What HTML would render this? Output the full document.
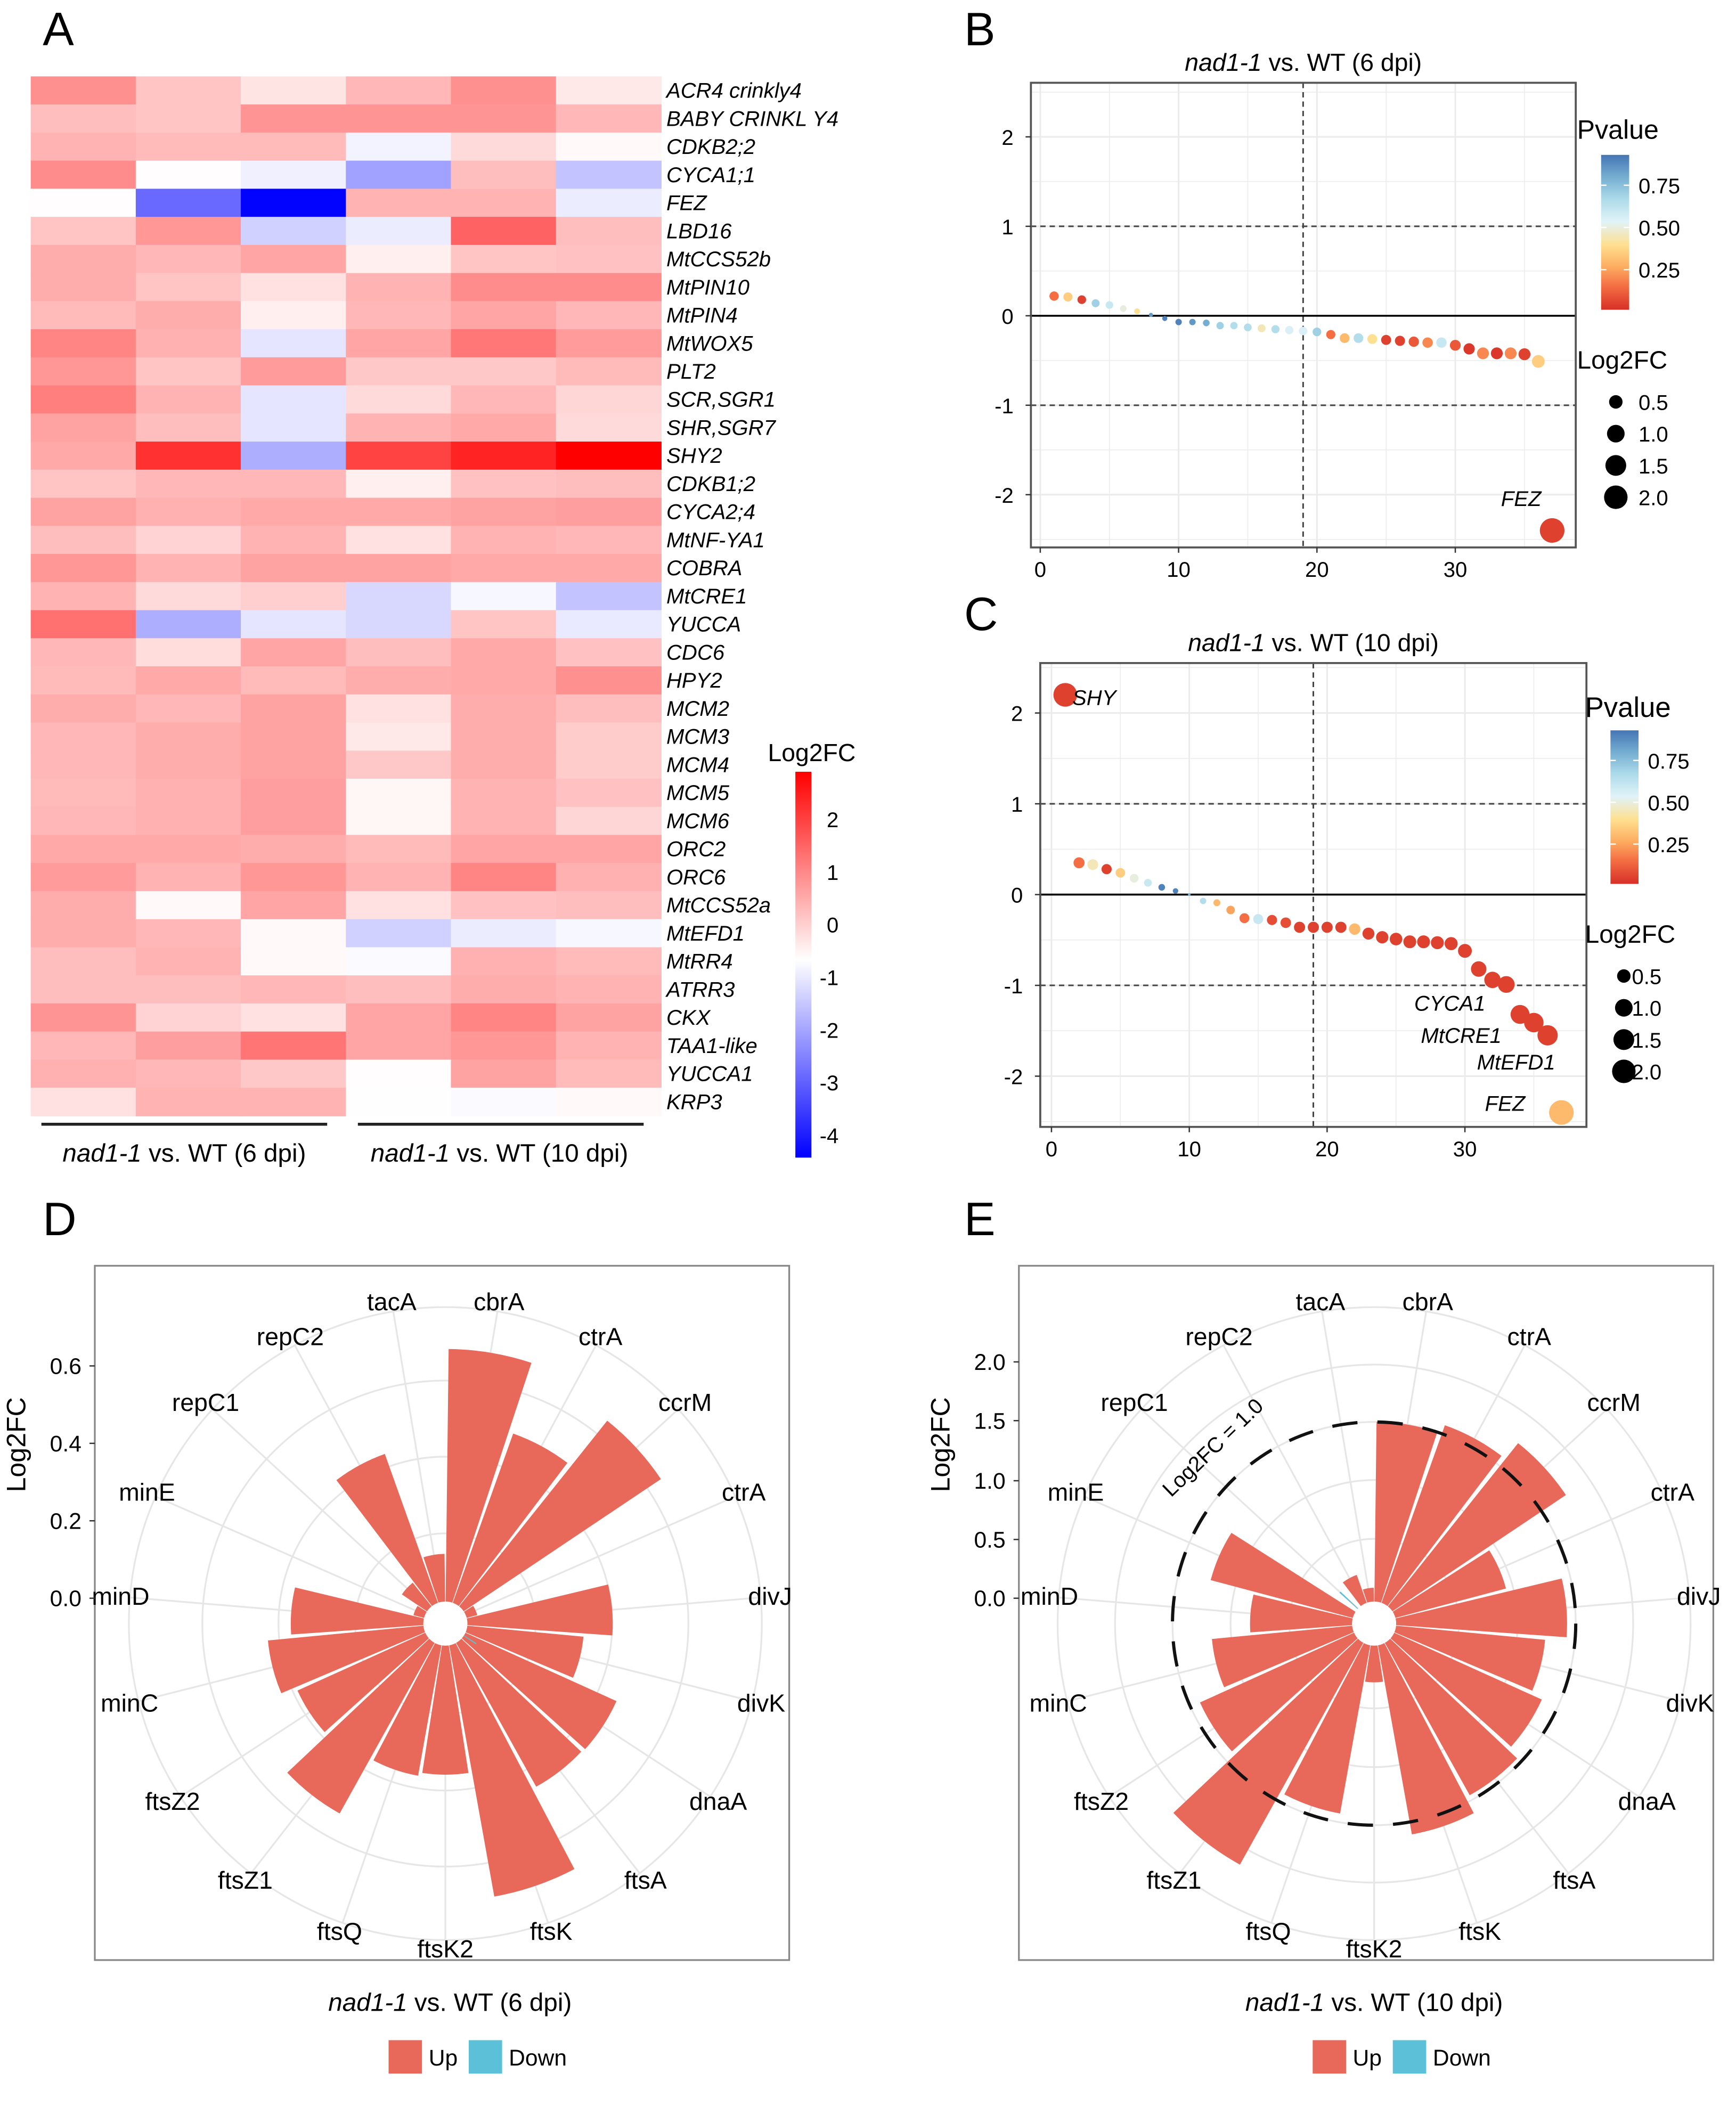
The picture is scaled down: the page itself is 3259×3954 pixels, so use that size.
<!DOCTYPE html>
<html><head><meta charset="utf-8"><title>Figure</title>
<style>
html,body{margin:0;padding:0;background:#fff;}
svg{display:block;font-family:"Liberation Sans",sans-serif;}
</style></head>
<body>
<svg id="fig" xmlns="http://www.w3.org/2000/svg" width="3259" height="3954" viewBox="0 0 1300 1577.3" preserveAspectRatio="none">
<defs>
<linearGradient id="hmGrad" x1="0" y1="0" x2="0" y2="1">
<stop offset="0" stop-color="#ff0000"/><stop offset="0.488" stop-color="#ffffff"/><stop offset="1" stop-color="#0000ff"/>
</linearGradient>
<linearGradient id="pGrad" x1="0" y1="1" x2="0" y2="0">
<stop offset="0" stop-color="#d73027"/><stop offset="0.15" stop-color="#f46d43"/><stop offset="0.28" stop-color="#fdae61"/><stop offset="0.42" stop-color="#fee090"/><stop offset="0.57" stop-color="#e0f3f8"/><stop offset="0.72" stop-color="#abd9e9"/><stop offset="0.86" stop-color="#74add1"/><stop offset="1" stop-color="#4575b4"/>
</linearGradient>
</defs>
<g id="root"></g>
</svg>
<script>
// ---------- Panel A data ----------
const hmGenes = ["ACR4 crinkly4","BABY CRINKL Y4","CDKB2;2","CYCA1;1","FEZ","LBD16","MtCCS52b","MtPIN10","MtPIN4","MtWOX5","PLT2","SCR,SGR1","SHR,SGR7","SHY2","CDKB1;2","CYCA2;4","MtNF-YA1","COBRA","MtCRE1","YUCCA","CDC6","HPY2","MCM2","MCM3","MCM4","MCM5","MCM6","ORC2","ORC6","MtCCS52a","MtEFD1","MtRR4","ATRR3","CKX","TAA1-like","YUCCA1","KRP3"];
const hmValues = [
[0.85,0.1,-0.35,0.3,0.85,-0.4],[0.2,0.1,0.8,0.8,0.8,0.3],[0.35,0.25,0.25,-0.9,-0.2,-0.65],
[0.9,-0.7,-0.95,-2.1,0.2,-1.6],[-0.7,-2.9,-4.4,0.35,0.35,-1.0],[0.1,0.75,-1.4,-1.0,1.5,0.2],
[0.45,0.3,0.55,-0.5,0.1,0.15],[0.45,0.1,-0.3,0.35,0.9,0.9],[0.25,0.45,-0.5,0.3,0.55,0.3],
[1.0,0.4,-1.1,0.55,1.2,0.7],[0.75,0.1,0.7,0.05,0.05,0.25],[1.1,0.35,-1.1,-0.2,0.3,-0.15],
[0.6,0.2,-1.1,0.35,0.5,-0.2],[0.5,2.2,-1.9,1.95,2.4,2.9],[0.1,0.3,0.3,-0.5,0.15,0.2],
[0.6,0.4,0.5,0.5,0.6,0.65],[0.2,-0.1,0.35,-0.3,0.35,0.3],[0.75,0.35,0.6,0.6,0.5,0.5],
[0.35,-0.2,-0.05,-1.3,-0.85,-1.6],[1.3,-1.9,-1.1,-1.3,0.1,-1.05],[0.3,-0.25,0.55,0.2,0.5,0.15],
[0.25,0.5,0.25,0.45,0.5,0.85],[0.45,0.3,0.6,-0.3,0.45,0.2],[0.3,0.45,0.6,-0.4,0.45,0.0],
[0.3,0.45,0.6,0.05,0.45,0.0],[0.25,0.4,0.65,-0.6,0.35,0.15],[0.3,0.4,0.65,-0.6,0.35,-0.15],
[0.5,0.5,0.45,0.25,0.55,0.55],[0.7,0.35,0.75,0.35,1.0,0.4],[0.45,-0.65,0.55,-0.3,0.15,0.2],
[0.45,0.3,-0.65,-1.4,-1.0,-0.85],[0.2,0.35,-0.65,-0.8,0.4,0.25],[0.2,0.2,0.3,0.2,0.45,0.35],
[0.8,-0.1,-0.3,0.55,1.0,0.6],[0.3,0.65,1.25,0.55,0.75,0.35],[0.4,0.3,0.05,-0.7,0.6,0.25],
[-0.3,0.35,0.35,-0.72,-0.8,-0.65]];
const hmTicks = [2,1,0,-1,-2,-3,-4];
// ---------- Panel B/C data ----------
const bLog2FC = [0.22,0.21,0.18,0.14,0.12,0.08,0.05,0.01,-0.03,-0.07,-0.07,-0.08,-0.11,-0.11,-0.13,-0.14,-0.15,-0.16,-0.17,-0.18,-0.21,-0.25,-0.25,-0.26,-0.27,-0.28,-0.29,-0.30,-0.30,-0.33,-0.37,-0.42,-0.42,-0.42,-0.43,-0.51,-2.4];
const bPvalue = [0.15,0.35,0.05,0.7,0.6,0.5,0.4,0.85,0.9,0.9,0.85,0.8,0.7,0.65,0.65,0.45,0.65,0.55,0.55,0.7,0.15,0.3,0.65,0.4,0.05,0.05,0.1,0.2,0.6,0.1,0.03,0.2,0.03,0.2,0.05,0.35,0.05];
const cLog2FC = [2.2,0.35,0.33,0.28,0.24,0.18,0.13,0.08,0.04,0.0,-0.07,-0.09,-0.17,-0.26,-0.27,-0.28,-0.31,-0.36,-0.36,-0.36,-0.36,-0.38,-0.43,-0.47,-0.49,-0.52,-0.52,-0.53,-0.54,-0.62,-0.82,-0.94,-0.99,-1.32,-1.41,-1.55,-2.4];
const cPvalue = [0.05,0.15,0.45,0.05,0.35,0.5,0.6,0.9,0.9,0.8,0.65,0.3,0.25,0.15,0.6,0.08,0.08,0.05,0.05,0.05,0.05,0.3,0.05,0.05,0.05,0.05,0.05,0.05,0.05,0.05,0.05,0.05,0.05,0.05,0.05,0.05,0.3];
const xTicks = [0,10,20,30];
const yTicks = [2,1,0,-1,-2];
const pTicks = [0.75,0.50,0.25];
const sizeTicks = [0.5,1.0,1.5,2.0];
// ---------- Panel D/E data ----------
const roseCats = ["cbrA","ctrA","ccrM","ctrA","divJ","divK","dnaA","ftsA","ftsK","ftsK2","ftsQ","ftsZ1","ftsZ2","minC","minD","minE","repC1","repC2","tacA"];
const dUp = [0.644,0.456,0.605,0.02,0.367,0.293,0.42,0.417,0.651,0.325,0.334,0.496,0.354,0.395,0.334,0.02,0.07,0.40,0.115];
const dDown = [0,0,0,0,0,0,0.03,0,0,0,0,0,0,0,0,0,0,0,0];
const eUp = [1.0,1.05,1.165,0.63,0.95,0.83,0.9,0.97,1.07,0.19,0.95,1.42,0.94,0.78,0.56,0.815,0,0.15,0.06];
const eDown = [0,0,0,0,0,0,0,0,0,0,0,0,0,0,0,0,0.12,0,0];
const dTicks = [0.0,0.2,0.4,0.6];
const eTicks = [0.0,0.5,1.0,1.5,2.0];

const NS="http://www.w3.org/2000/svg";
const root=document.getElementById('root');
function el(tag,attrs,parent,text){const e=document.createElementNS(NS,tag);for(const k in attrs)e.setAttribute(k,attrs[k]);if(text!==undefined)e.textContent=text;(parent||root).appendChild(e);return e;}
function txt(x,y,s,size,parent,extra){const a={x:x,y:y,'font-size':size,fill:'#000'};if(extra)for(const k in extra)a[k]=extra[k];return el('text',a,parent,s);}

// Panel letters
[["A",32,34],["B",722,34],["C",722,472],["D",32,925],["E",722,925]].forEach(p=>{
  const t=txt(p[1],p[2],p[0],35,root);
  
  
});

// ===== Panel A heatmap =====
const gA=el('g',{});


const hmL=23,hmR=495,hmT=57.2,hmB=835.7;
const cw=(hmR-hmL)/6, rh=(hmB-hmT)/hmGenes.length;
const hmMax=2.9,hmMid=-0.73,hmMin=-4.43;
function hmColor(v){let r,g,b;if(v>=hmMid){const t=Math.min(1,(v-hmMid)/(hmMax-hmMid));r=255;g=b=Math.round(255*(1-t));}else{const t=Math.min(1,(hmMid-v)/(hmMid-hmMin));b=255;r=g=Math.round(255*(1-t));}return `rgb(${r},${g},${b})`;}
hmValues.forEach((row,i)=>{
  row.forEach((v,j)=>{
    const c=el('rect',{x:hmL+j*cw,y:hmT+i*rh,width:cw+0.4,height:rh+0.4,fill:hmColor(v)},gA);
    
    
  });
  const t=txt(499,hmT+(i+0.5)*rh+5.5,hmGenes[i],16,gA,{'font-style':'italic'});
  
  
});
[[31,245,138],[268,482,374]].forEach((b,k)=>{
  const l=el('line',{x1:b[0],x2:b[1],y1:842,y2:842,stroke:'#222','stroke-width':2.2},gA);
  
  
  const t=el('text',{x:b[2],y:870,'font-size':19,'text-anchor':'middle'},gA);
  
  
  el('tspan',{'font-style':'italic'},t,'nad1-1');
  el('tspan',{},t,k==0?' vs. WT (6 dpi)':' vs. WT (10 dpi)');
});
// colorbar
const cbT=578,cbB=867;
const cb=el('rect',{x:595.6,y:cbT,width:12,height:cbB-cbT,fill:'url(#hmGrad)'},gA);


const cbt=txt(575,570,"Log2FC",18.5,gA);


function cbY(v){return cbT+(hmMax-v)/(hmMax-hmMin)*(cbB-cbT);}
hmTicks.forEach(v=>{
  const t=txt(628,cbY(v)+6,String(v),16,gA,{'text-anchor':'end'});
  
  
});

// ===== Pvalue color =====
const pStops=[[0,[215,48,39]],[0.15,[244,109,67]],[0.28,[253,174,97]],[0.42,[254,224,144]],[0.57,[224,243,248]],[0.72,[171,217,233]],[0.86,[116,173,209]],[1,[69,117,180]]];
function pColor(p){const f=Math.max(0,Math.min(1,(p-0.012)/(0.93-0.012)));for(let i=1;i<pStops.length;i++){if(f<=pStops[i][0]){const a=pStops[i-1],b=pStops[i];const t=(f-a[0])/(b[0]-a[0]);const c=a[1].map((x,k)=>Math.round(x+(b[1][k]-x)*t));return `rgb(${c})`;}}return 'rgb(69,117,180)';}
function sizeR(v){return 1+5.3*Math.sqrt(Math.abs(v));}

function dotPanel(cfg){
  const g=el('g',{});
  
  
  const X=v=>cfg.x0+v*cfg.xs, Y=v=>cfg.y0-v*cfg.ys;
  const bg=el('rect',{x:cfg.L,y:cfg.T,width:cfg.R-cfg.L,height:cfg.B-cfg.T,fill:'#fff'},g);
  
  
  for(let v=-2.5;v<=2.5;v+=0.5){const y=Y(v);if(y<cfg.T||y>cfg.B)continue;el('line',{x1:cfg.L,x2:cfg.R,y1:y,y2:y,stroke:'#ebebeb','stroke-width':Number.isInteger(v)?1.2:0.6},g);}
  for(let v=0;v<=35;v+=5){el('line',{x1:X(v),x2:X(v),y1:cfg.T,y2:cfg.B,stroke:'#ebebeb','stroke-width':v%10==0?1.2:0.6},g);}
  [1,-1].forEach(v=>{const l=el('line',{x1:cfg.L,x2:cfg.R,y1:Y(v),y2:Y(v),stroke:'#444','stroke-width':1.2,'stroke-dasharray':'4 3'},g);});
  const vl=el('line',{x1:X(19),x2:X(19),y1:cfg.T,y2:cfg.B,stroke:'#444','stroke-width':1.2,'stroke-dasharray':'4 3'},g);
  
  
  const zl=el('line',{x1:cfg.L,x2:cfg.R,y1:Y(0),y2:Y(0),stroke:'#000','stroke-width':1.4},g);
  
  
  const bx=el('rect',{x:cfg.L,y:cfg.T,width:cfg.R-cfg.L,height:cfg.B-cfg.T,fill:'none',stroke:'#555','stroke-width':1.5},g);
  
  
  cfg.fc.forEach((v,i)=>{
    const c=el('circle',{cx:X(i+1),cy:Y(v),r:sizeR(v),fill:pColor(cfg.p[i])},g);
    
    
  });
  cfg.labels.forEach(lb=>{
    const t=txt(lb[1],lb[2],lb[0],16,g,{'font-style':'italic'});
    
    
  });
  xTicks.forEach(v=>{
    el('line',{x1:X(v),x2:X(v),y1:cfg.B,y2:cfg.B+4,stroke:'#333','stroke-width':1},g);
    const t=txt(X(v),cfg.B+22,String(v),16,g,{'text-anchor':'middle'});
    
    
  });
  yTicks.forEach(v=>{
    el('line',{x1:cfg.L-4,x2:cfg.L,y1:Y(v),y2:Y(v),stroke:'#333','stroke-width':1},g);
    const t=txt(cfg.L-13,Y(v)+6,String(v),16,g,{'text-anchor':'end'});
    
    
  });
  const tt=el('text',{x:(cfg.L+cfg.R)/2,y:cfg.T-9,'font-size':18.5,'text-anchor':'middle'},g);
  
  
  el('tspan',{'font-style':'italic'},tt,'nad1-1');
  el('tspan',{},tt,cfg.title);
  // legends
  const lg=cfg.leg;
  const pt=txt(lg.px,lg.py,"Pvalue",lg.ps,g);
  
  
  const bar=el('rect',{x:lg.bx,y:lg.bt,width:21,height:lg.bb-lg.bt,fill:'url(#pGrad)'},g);
  
  
  pTicks.forEach(p=>{
    const y=lg.bb-(p-0.012)/(0.93-0.012)*(lg.bb-lg.bt);
    el('line',{x1:lg.bx,x2:lg.bx+4,y1:y,y2:y,stroke:'#fff','stroke-width':1},g);
    el('line',{x1:lg.bx+17,x2:lg.bx+21,y1:y,y2:y,stroke:'#fff','stroke-width':1},g);
    const t=txt(lg.bx+28,y+6,p.toFixed(2),16,g);
    
    
  });
  const st=txt(lg.px,lg.sy,"Log2FC",19,g);
  
  
  sizeTicks.forEach((s,k)=>{
    const y=lg.sy+25+k*23.8;
    const c=el('circle',{cx:lg.dx,cy:y,r:sizeR(s)+0.3,fill:'#000'},g);
    
    
    const t=txt(lg.dx+lg.lo,y+6,s.toFixed(1),16,g);
    
    
  });
}
dotPanel({name:'dot-plot-6dpi',L:772,R:1180,T:62,B:410,x0:779,xs:10.36,y0:236.5,ys:67,fc:bLog2FC,p:bPvalue,title:' vs. WT (6 dpi)',
  labels:[["FEZ",1124,379]],
  leg:{px:1181,py:104,ps:20,bx:1199,bt:116,bb:232,sy:276,dx:1210,lo:17}});
dotPanel({name:'dot-plot-10dpi',L:779,R:1188,T:496.6,B:844,x0:787.4,xs:10.32,y0:670,ys:68,fc:cLog2FC,p:cPvalue,title:' vs. WT (10 dpi)',
  labels:[["SHY",803,528],["CYCA1",1059,757],["MtCRE1",1064,781],["MtEFD1",1106,801],["FEZ",1112,832]],
  leg:{px:1187,py:537,ps:21,bx:1206,bt:547,bb:662,sy:706,dx:1216,lo:6}});

// ===== Rose charts =====
function arcPath(cx,cy,r0,r1,a0,a1){
  const p=(r,a)=>[cx+r*Math.sin(a),cy-r*Math.cos(a)];
  const A=p(r0,a0),B=p(r1,a0),C=p(r1,a1),D=p(r0,a1);
  const lg=(a1-a0)>Math.PI?1:0;
  return `M${A[0]},${A[1]}L${B[0]},${B[1]}A${r1},${r1} 0 ${lg} 1 ${C[0]},${C[1]}L${D[0]},${D[1]}A${r0},${r0} 0 ${lg} 0 ${A[0]},${A[1]}Z`;
}
function rosePanel(cfg){
  const g=el('g',{});
  
  
  const bx=el('rect',{x:cfg.L,y:948,width:520,height:520,fill:'#fff',stroke:'#888','stroke-width':1.3},g);
  
  
  const cx=cfg.cx,cy=1216;
  cfg.grid.forEach(r=>el('circle',{cx:cx,cy:cy,r:r,fill:'none',stroke:'#e6e6e6','stroke-width':1.3},g));
  const n=roseCats.length,step=2*Math.PI/n;
  roseCats.forEach((c,i)=>{
    const a=(i+0.5)*step;
    el('line',{x1:cx,y1:cy,x2:cx+237*Math.sin(a),y2:cy-237*Math.cos(a),stroke:'#e6e6e6','stroke-width':1.3},g);
  });
  const R=v=>cfg.r0+v*cfg.rs;
  const gap=0.012;
  cfg.up.forEach((v,i)=>{
    if(v<=0)return;
    const p=el('path',{d:arcPath(cx,cy,cfg.hole,R(v),i*step+gap,(i+1)*step-gap),fill:'#e8685a'},g);
    
    
  });
  cfg.down.forEach((v,i)=>{
    if(v<=0)return;
    const p=el('path',{d:arcPath(cx,cy,2,R(v),(i+0.45)*step,(i+0.55)*step),fill:'#5bc0d8'},g);
    
    
  });
  el('circle',{cx:cx,cy:cy,r:cfg.hole,fill:'#fff'},g);
  if(cfg.dashR){
    const dc=el('circle',{cx:cx,cy:cy,r:cfg.dashR,fill:'none',stroke:'#111','stroke-width':2.4,'stroke-dasharray':'19 15'},g);
    
    
    const t=txt(0,0,"Log2FC = 1.0",16,g,{'text-anchor':'middle',transform:`translate(${cx-117},${cy-128}) rotate(-44)`});
    
    
  }
  roseCats.forEach((c,i)=>{
    const a=(i+0.5)*step;
    const t=txt(cx+244*Math.sin(a),cy-244*Math.cos(a)+6,c,18.5,g,{'text-anchor':'middle'});
    
    
  });
  cfg.ticks.forEach((v,k)=>{
    const y=cfg.tickY[k];
    el('line',{x1:cfg.L-4,x2:cfg.L,y1:y,y2:y,stroke:'#333','stroke-width':1},g);
    const t=txt(cfg.L-10,y+6,v.toFixed(1),17,g,{'text-anchor':'end'});
    
    
  });
  const yt=txt(0,0,"Log2FC",20,g,{'text-anchor':'middle',transform:`translate(${cfg.L-52},1082) rotate(-90)`});
  
  
  const st=el('text',{x:cfg.L+266,y:1506,'font-size':19,'text-anchor':'middle'},g);
  
  
  el('tspan',{'font-style':'italic'},st,'nad1-1');
  el('tspan',{},st,cfg.title);
  const lx=cfg.L+220;
  const s1=el('rect',{x:lx,y:1528,width:25,height:25,fill:'#e8685a'},g);
  
  
  const t1=txt(lx+30,1547,"Up",17,g);
  
  
  const s2=el('rect',{x:lx+60,y:1528,width:25,height:25,fill:'#5bc0d8'},g);
  
  
  const t2=txt(lx+90,1547,"Down",17,g);
  
  
}
rosePanel({name:'rose-chart-6dpi',L:71,cx:333.5,hole:16.5,r0:18.9,rs:290,grid:[67.6,125,182,237],up:dUp,down:dDown,ticks:dTicks,tickY:[1197,1139,1081,1023],title:' vs. WT (6 dpi)'});
rosePanel({name:'rose-chart-10dpi',L:763,cx:1029,hole:16.5,r0:18.9,rs:132.2,grid:[63.5,107.5,151,194,237],up:eUp,down:eDown,ticks:eTicks,tickY:[1197,1153,1109,1064,1020],dashR:151,title:' vs. WT (10 dpi)'});
</script>
</body></html>
